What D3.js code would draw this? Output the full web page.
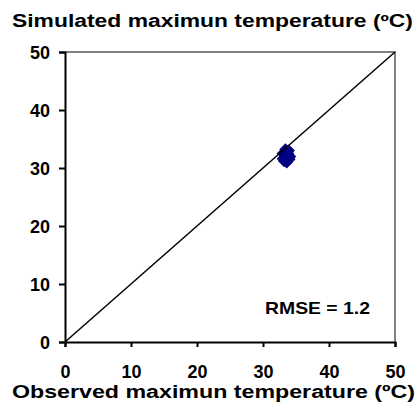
<!DOCTYPE html>
<html>
<head>
<meta charset="utf-8">
<script src="https://cdn.jsdelivr.net/npm/d3@7"></script>
<style>
  html, body { margin: 0; padding: 0; background: #fff; }
  svg { display: block; font-family: "Liberation Sans", Arial, sans-serif; }
</style>
</head>
<body>
<svg id="chart" width="419" height="420"></svg>
<script>
const observed  = [33.0, 33.4, 33.9, 34.1, 34.0, 33.6, 33.0, 33.5, 33.2, 33.8];
const simulated = [32.5, 33.2, 33.0, 32.0, 31.5, 31.0, 31.6, 32.2, 31.2, 32.5];
const tickValues = [0, 10, 20, 30, 40, 50];
const oneToOne = [0, 50];
const titleText = "Simulated maximun temperature (\u00BAC)";
const xTitleText = "Observed maximun temperature (\u00BAC)";
const rmseText = "RMSE = 1.2";

const svg = d3.select("#chart");
const x = d3.scaleLinear().domain([0, 50]).range([65, 395]);
const y = d3.scaleLinear().domain([0, 50]).range([342, 52]);

// top and right border (gray)
svg.append("path")
  .attr("d", `M${x(0)},${y(50)}H${x(50)}V${y(0)}`)
  .attr("fill", "none").attr("stroke", "#808080").attr("stroke-width", 2);

// points (rotated squares = Excel diamonds)
const diamond = d3.symbol().type(d3.symbolSquare).size(60);
svg.append("g").selectAll("path")
  .data(observed.map((o, i) => [o, simulated[i]]))
  .join("path")
  .attr("d", diamond)
  .attr("transform", d => `translate(${x(d[0])},${y(d[1])}) rotate(45)`)
  .attr("fill", "#000080").attr("stroke", "#000080").attr("stroke-width", 1);

// 1:1 line
svg.append("line")
  .attr("x1", x(oneToOne[0])).attr("y1", y(oneToOne[0]))
  .attr("x2", x(oneToOne[1])).attr("y2", y(oneToOne[1]))
  .attr("stroke", "#000").attr("stroke-width", 1.5);

// axes
const xAxis = d3.axisBottom(x).tickValues(tickValues).tickSize(5).tickPadding(8).tickFormat(d3.format("d"));
const yAxis = d3.axisLeft(y).tickValues(tickValues).tickSize(6).tickPadding(8).tickFormat(d3.format("d"));

const gx = svg.append("g").attr("transform", `translate(0,${y(0)})`).call(xAxis);
const gy = svg.append("g").attr("transform", `translate(${x(0)},0)`).call(yAxis);
[gx, gy].forEach(g => {
  g.attr("font-size", null).attr("font-family", null);
  g.select(".domain").attr("stroke", "#000").attr("stroke-width", 2);
  g.selectAll(".tick line").attr("stroke", "#000").attr("stroke-width", 2);
  g.selectAll(".tick text").attr("fill", "#000").style("font-size", "18px").style("font-weight", "bold")
    .style("font-family", "'Liberation Sans', Arial, sans-serif");
});
gx.selectAll(".tick text").attr("dy", "0").attr("y", 36);
gy.selectAll(".tick text").attr("x", -15).attr("dy", "0.36em");

// titles
svg.append("text").attr("x", 12).attr("y", 27)
  .attr("textLength", 401).attr("lengthAdjust", "spacingAndGlyphs")
  .style("font-size", "18px").style("font-weight", "bold").text(titleText);
svg.append("text").attr("x", 12).attr("y", 398)
  .attr("textLength", 403).attr("lengthAdjust", "spacingAndGlyphs")
  .style("font-size", "17.5px").style("font-weight", "bold").text(xTitleText);
svg.append("text").attr("x", 265).attr("y", 314)
  .attr("textLength", 105).attr("lengthAdjust", "spacingAndGlyphs")
  .style("font-size", "17px").style("font-weight", "bold").text(rmseText);
</script>
</body>
</html>
